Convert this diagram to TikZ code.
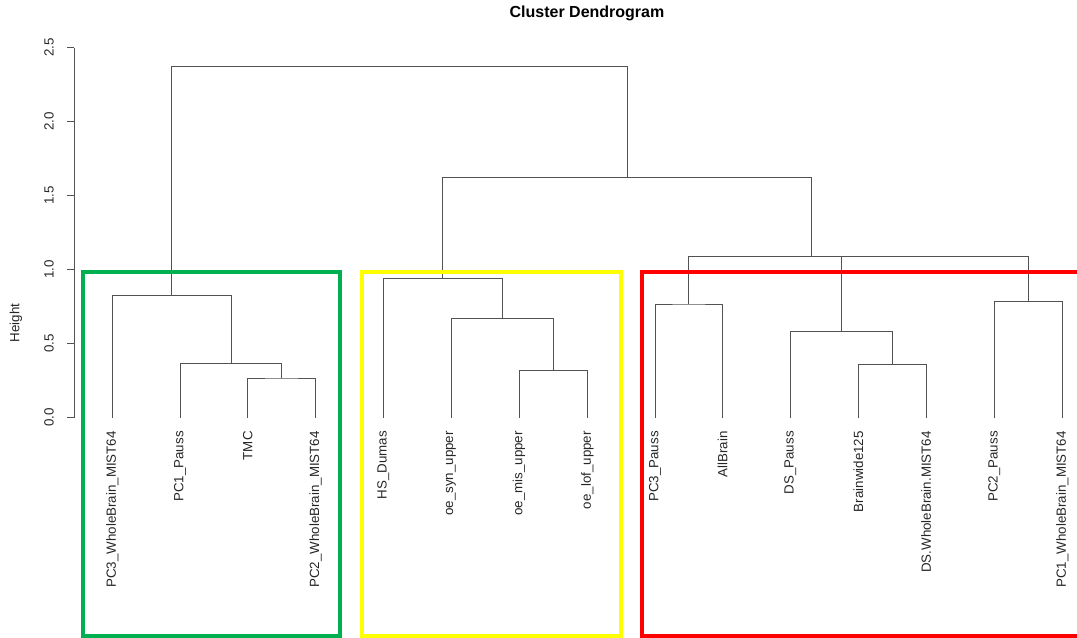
\documentclass[tikz,border=0pt]{standalone}
\usepackage{fontspec}
\setmainfont{Liberation Sans}
\begin{document}
\begin{tikzpicture}[x=0.75pt,y=-0.75pt,
  branch/.style={draw=black!68,line width=0.7pt},
  leaflabel/.style={rotate=90,anchor=east,inner sep=0pt,font=\fontsize{10}{12}\selectfont,text=black!85},
  ticklabel/.style={rotate=90,inner sep=0pt,font=\fontsize{10}{12}\selectfont,text=black!85},
  clusterbox/.style={line width=3pt}]
\useasboundingbox (0,0) rectangle (1077,638);
\definecolor{boxgreen}{RGB}{0,176,80}
\definecolor{boxyellow}{RGB}{255,255,0}
\definecolor{boxred}{RGB}{255,0,0}

% title
\node[font=\fontsize{12}{14}\selectfont\bfseries] (title) at (587,13) {Cluster Dendrogram};

% height axis
\draw[branch] (74,47.7) -- (74,417.7);
\foreach \h/\lab in {0/0.0,1/0.5,2/1.0,3/1.5,4/2.0,5/2.5}{
  \draw[branch] (74,{417.7-74*\h}) -- (66.7,{417.7-74*\h});
  \node[ticklabel] (tick\h) at (49,{417.7-74*\h}) {\lab};
}
\node[ticklabel] (ylab) at (16,323) {Height};

% leaves
\foreach \x/\n/\t in {
  112.3/l1/PC3\_WholeBrain\_MIST64,
  180/l2/PC1\_Pauss,
  247.7/l3/TMC,
  315.7/l4/PC2\_WholeBrain\_MIST64,
  383.3/l5/HS\_Dumas,
  451/l6/oe\_syn\_upper,
  519/l7/oe\_mis\_upper,
  587.3/l8/oe\_lof\_upper,
  655/l9/PC3\_Pauss,
  722.7/l10/AllBrain,
  790.3/l11/DS\_Pauss,
  858.3/l12/Brainwide125,
  926/l13/DS.WholeBrain.MIST64,
  994.3/l14/PC2\_Pauss,
  1062.3/l15/PC1\_WholeBrain\_MIST64}{
  \coordinate (\n) at (\x,418);
  \node[leaflabel] (\n-label) at (\x,431) {\t};
}

% merge points (centre of each link, at its height)
\coordinate (m1)  at (281.7,378);
\coordinate (m2)  at (231,363.3);
\coordinate (m3)  at (171.7,295.3);
\coordinate (m4)  at (553.2,370.7);
\coordinate (m5)  at (502.3,318.7);
\coordinate (m6)  at (442.7,278.3);
\coordinate (m7)  at (892.2,364.7);
\coordinate (m8)  at (841.7,331.7);
\coordinate (m9)  at (688.8,304);
\coordinate (m10) at (1028.3,301.7);
\coordinate (m11) at (935,256.7);
\coordinate (m12) at (811.9,256.7);
\coordinate (m13) at (627.3,177.3);
\coordinate (m14) at (399.5,66.3);

% links
\draw[branch] (l3) |- (m1) -| (l4);
\draw[branch] (l2) |- (m2) -| (m1);
\draw[branch] (l1) |- (m3) -| (m2);
\draw[branch] (l7) |- (m4) -| (l8);
\draw[branch] (l6) |- (m5) -| (m4);
\draw[branch] (l5) |- (m6) -| (m5);
\draw[branch] (l12) |- (m7) -| (l13);
\draw[branch] (l11) |- (m8) -| (m7);
\draw[branch] (l9) |- (m9) -| (l10);
\draw[branch] (l14) |- (m10) -| (l15);
\draw[branch] (m8) |- (m11) -| (m10);
\draw[branch] (m9) |- (m12) -| (m11);
\draw[branch] (m6) |- (m13) -| (m12);
\draw[branch] (m3) |- (m14) -| (m13);

% cluster boxes
\draw[clusterbox,draw=boxgreen]  (82.7,271.7) rectangle (340,636);
\draw[clusterbox,draw=boxyellow] (362,271.7) rectangle (621,636);
\draw[clusterbox,draw=boxred]    (641.7,271.7) rectangle (1090,636);
\end{tikzpicture}
\end{document}
